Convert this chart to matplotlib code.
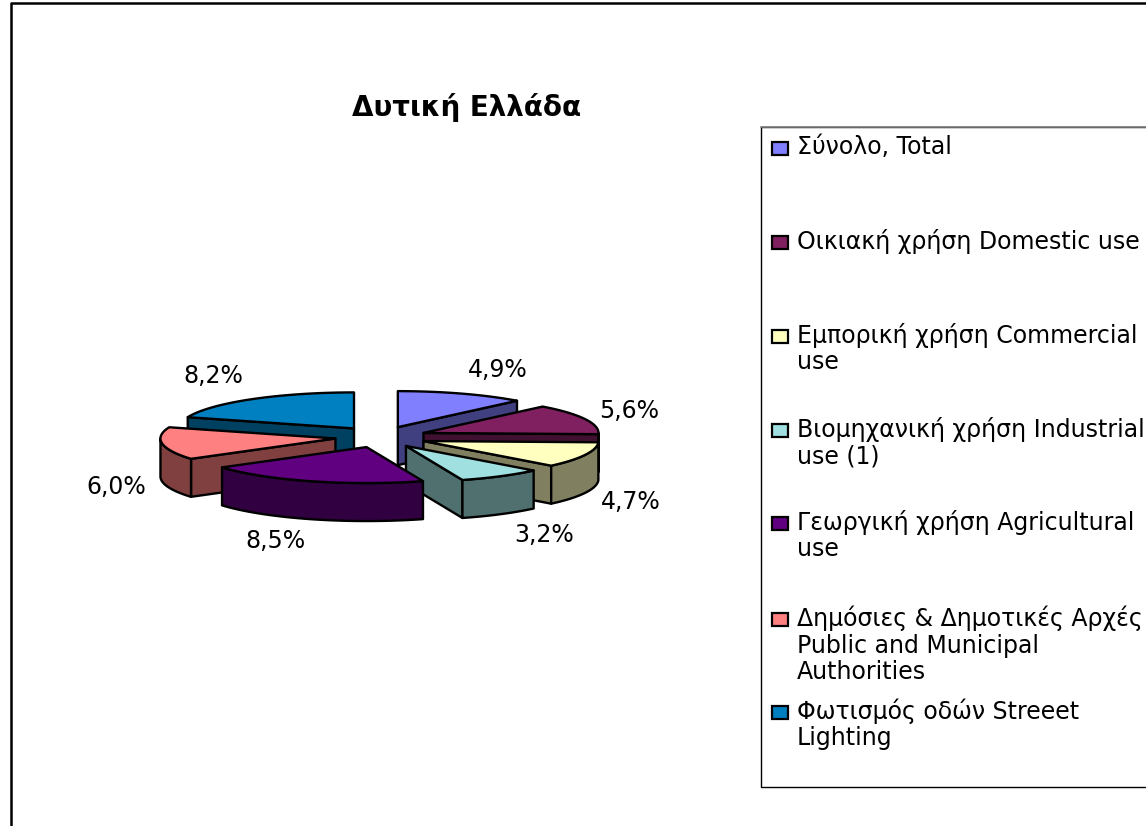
import numpy as np
import matplotlib
matplotlib.use("Agg")
import matplotlib.pyplot as plt
from matplotlib.patches import Polygon, Rectangle

plt.rcParams['font.family'] = ['DejaVu Sans']

title = "Δυτική Ελλάδα"
categories = [
    "Σύνολο, Total",
    "Οικιακή χρήση Domestic use",
    "Εμπορική χρήση Commercial\nuse",
    "Βιομηχανική χρήση Industrial\nuse (1)",
    "Γεωργική χρήση Agricultural\nuse",
    "Δημόσιες & Δημοτικές Αρχές\nPublic and Municipal\nAuthorities",
    "Φωτισμός οδών Streeet\nLighting",
]
values = [4.9, 5.6, 4.7, 3.2, 8.5, 6.0, 8.2]
top_colors = ["#8080FF", "#802060", "#FFFFC0", "#A0E0E0", "#600080", "#FF8080", "#0080C0"]
wall_colors = ["#404080", "#401030", "#808060", "#507070", "#300040", "#804040", "#004060"]

# layout (pixels)
CX, CY, RX, RY, DEPTH, EX, EY = 381, 437, 175, 36, 38, 46, 10.6
draw_order = [0, 6, 1, 2, 3, 5, 4]
label_xy = [(498, 370), (629, 411), (631, 502), (544, 535), (275, 541), (116, 487), (213, 376)]
legend_y = [148, 242, 336, 430, 523, 619, 712]
LINE_PX = 27

fig = plt.figure(figsize=(11.46, 8.26), dpi=100)
ax = fig.add_axes([0, 0, 1, 1])
ax.set_xlim(0, 1146)
ax.set_ylim(826, 0)
ax.axis("off")

# outer frame
ax.plot([11, 11, 1146], [826, 2.5, 2.5], color="black", lw=1.8, solid_capstyle="butt")

LW = 1.7
total = sum(values)
ends = np.cumsum(values) / total * 360
starts = ends - np.array(values) / total * 360


def pt(x0, y0, deg):
    a = np.radians(deg)
    return x0 + RX * np.sin(a), y0 - RY * np.cos(a)


for i in draw_order:
    s, e = starts[i], ends[i]
    m = np.radians((s + e) / 2)
    x0 = CX + EX * np.sin(m)
    y0 = CY - EY * np.cos(m)
    apex = (x0, y0)
    kw = dict(edgecolor="black", lw=LW, joinstyle="round", zorder=3)
    # radial walls
    for ang, vis in ((s, np.sin(np.radians(s)) < -1e-6), (e, np.sin(np.radians(e)) > 1e-6)):
        if vis:
            px, py = pt(x0, y0, ang)
            ax.add_patch(Polygon([apex, (px, py), (px, py + DEPTH), (x0, y0 + DEPTH)],
                                 facecolor=wall_colors[i], **kw))
    # outer wall
    lo, hi = max(s, 90), min(e, 270)
    if hi > lo:
        ar = np.linspace(lo, hi, 40)
        xs, ys = pt(x0, y0, ar)
        verts = list(zip(xs, ys)) + list(zip(xs[::-1], ys[::-1] + DEPTH))
        ax.add_patch(Polygon(verts, facecolor=wall_colors[i], **kw))
    # top
    ar = np.linspace(s, e, 60)
    xs, ys = pt(x0, y0, ar)
    ax.add_patch(Polygon([apex] + list(zip(xs, ys)), facecolor=top_colors[i], **kw))

for v, (lx, ly) in zip(values, label_xy):
    ax.text(lx, ly, f"{v:.1f}%".replace(".", ","), ha="center", va="center",
            fontsize=17, color="black", zorder=5)

ax.text(467, 108, title, ha="center", va="center", fontsize=20, fontweight="bold")

# legend box
ax.plot([1146, 761, 761, 1146], [127, 127, 787, 787], color="black", lw=1.0, zorder=2)
ax.plot([761, 1146], [127, 127], color="#808080", lw=1.2, zorder=2)
for label, c, ym in zip(categories, top_colors, legend_y):
    ax.add_patch(Rectangle((772, ym - 6), 16, 13, facecolor=c, edgecolor="black", lw=1.6, zorder=4))
    n = label.count("\n")
    ax.text(797, ym - 1 + n * LINE_PX / 2, label, ha="left", va="center",
            fontsize=17, linespacing=1.13, color="black", zorder=5)

fig.savefig("out.png", dpi=100)
